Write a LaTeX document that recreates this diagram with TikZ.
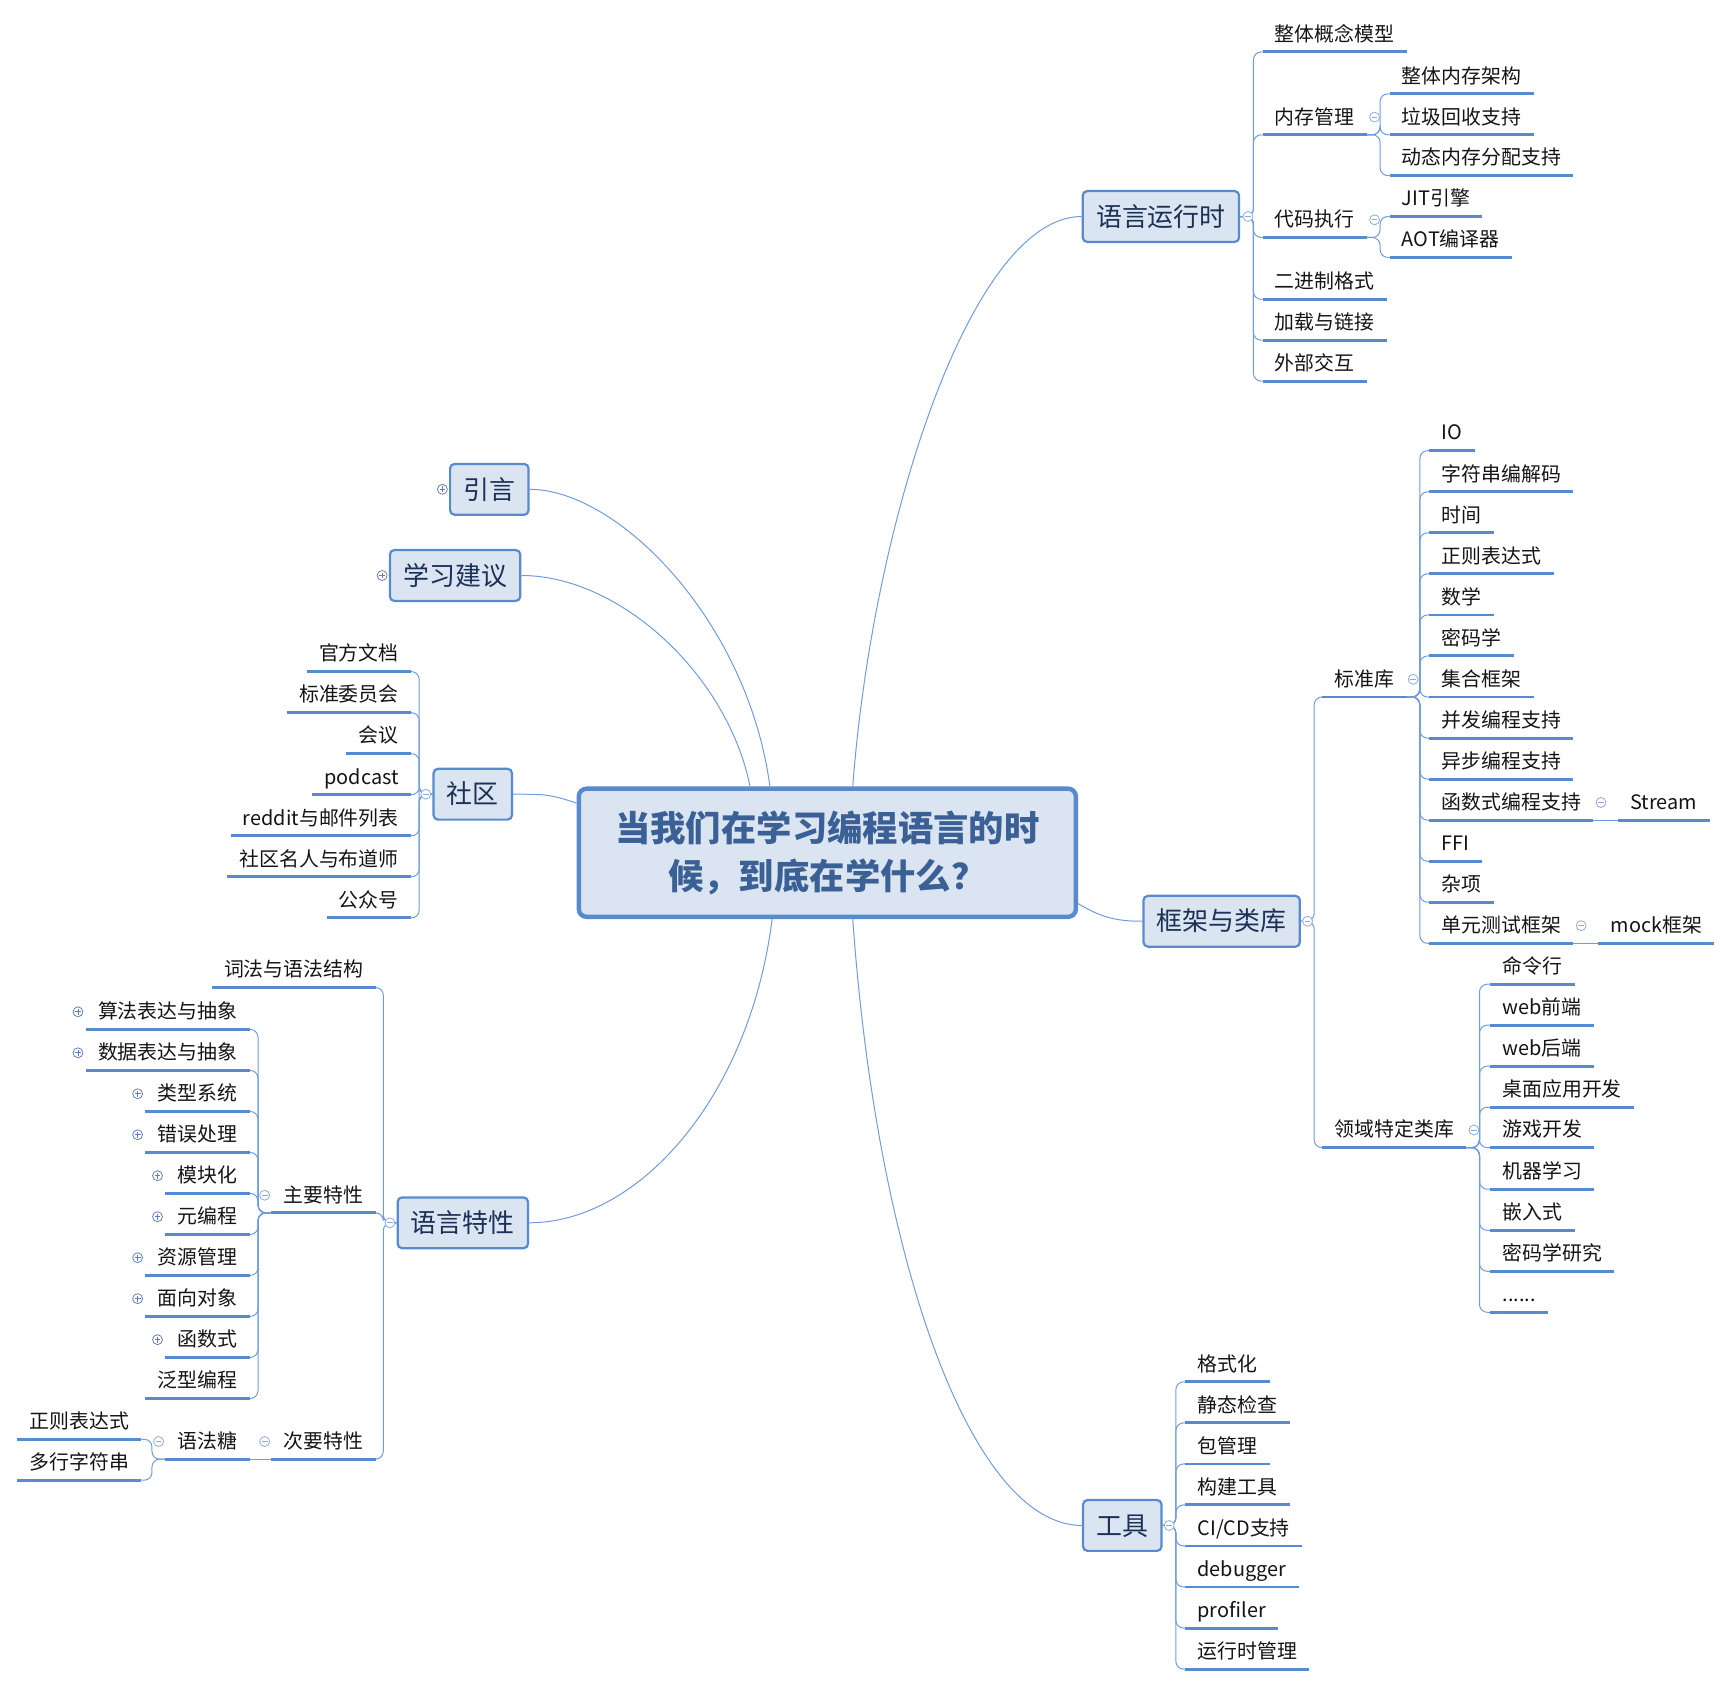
\documentclass[tikz,border=0pt]{standalone}
\usepackage{fontspec}
\setmainfont{Noto Sans CJK SC}
\usetikzlibrary{calc}
\definecolor{ulblue}{RGB}{88,138,208}
\definecolor{lnblue}{RGB}{110,156,220}
\definecolor{boxfill}{RGB}{219,229,241}
\definecolor{boxtext}{RGB}{28,48,88}
\definecolor{ctext}{RGB}{58,96,150}
\definecolor{togline}{RGB}{140,170,222}
\definecolor{togdark}{RGB}{95,125,185}
\begin{document}
\begin{tikzpicture}[x=1pt,y=-1pt,
  conn/.style={draw=lnblue, line width=0.9pt, rounded corners=7pt},
  curve/.style={draw=lnblue, line width=0.9pt},
  leaf/.style={font=\fontsize{18}{20}\selectfont, text=black!92, inner xsep=11pt, inner ysep=0pt,
    text height=15pt, text depth=9.5pt,
    append after command={(\tikzlastnode.south west) edge[draw=ulblue, line width=2.6pt] (\tikzlastnode.south east)}},
  leafR/.style={leaf, anchor=south west},
  leafL/.style={leaf, anchor=south east},
  lvlone/.style={draw=ulblue, line width=2pt, fill=boxfill, rounded corners=4pt, minimum height=46pt,
    inner xsep=12pt, inner ysep=0pt, text height=20.5pt, text depth=3pt,
    font=\fontsize{23.5}{26}\selectfont, text=boxtext},
  tog/.style={circle, draw=togline, line width=0.7pt, fill=white, inner sep=0pt, minimum size=9pt},
  togm/.style={tog, path picture={\draw[togline, line width=0.7pt]
     ($(path picture bounding box.center)+(-2.6,0)$) -- ($(path picture bounding box.center)+(2.6,0)$);}},
  togp/.style={tog, draw=togdark, path picture={\draw[togdark, line width=0.7pt]
     ($(path picture bounding box.center)+(-2.6,0)$) -- ($(path picture bounding box.center)+(2.6,0)$)
     ($(path picture bounding box.center)+(0,-2.6)$) -- ($(path picture bounding box.center)+(0,2.6)$);}}
]
\path[use as bounding box] (0,0) rectangle (1568,1526.4);

% ---------- central topic ----------
\node[draw=ulblue, line width=4pt, fill=boxfill, rounded corners=7pt, minimum width=450pt,
  minimum height=116pt, align=center, font=\fontsize{32}{43}\selectfont\bfseries, text=ctext]
  (C) at (749,772) {当我们在学习编程语言的时\\候，到底在学什么？};

% ---------- main topics ----------
\node[lvlone] (rt) at (1051,196) {语言运行时};
\node[lvlone] (yy) at (443,443) {引言};
\node[lvlone] (xx) at (412,521) {学习建议};
\node[lvlone] (sq) at (428,719) {社区};
\node[lvlone] (fw) at (1106,834) {框架与类库};
\node[lvlone] (lf) at (419,1107) {语言特性};
\node[lvlone] (tl) at (1016,1381) {工具};

% ---------- 语言运行时 ----------
\node[leafR] (rt1) at (1143,47) {整体概念模型};
\node[leafR] (rt2) at (1143,122) {内存管理};
\node[leafR] (rt2a) at (1258,85) {整体内存架构};
\node[leafR] (rt2b) at (1258,122) {垃圾回收支持};
\node[leafR] (rt2c) at (1258,159) {动态内存分配支持};
\node[leafR] (rt3) at (1143,215) {代码执行};
\node[leafR] (rt3a) at (1258,196) {JIT引擎};
\node[leafR] (rt3b) at (1258,233) {AOT编译器};
\node[leafR] (rt4) at (1143,271) {二进制格式};
\node[leafR] (rt5) at (1143,308) {加载与链接};
\node[leafR] (rt6) at (1143,345) {外部交互};

% ---------- 框架与类库 ----------
\node[leafR] (fw1) at (1197,631) {标准库};
\node[leafR] (s1) at (1294,408) {IO};
\node[leafR] (s2) at (1294,445.2) {字符串编解码};
\node[leafR] (s3) at (1294,482.3) {时间};
\node[leafR] (s4) at (1294,519.5) {正则表达式};
\node[leafR] (s5) at (1294,556.7) {数学};
\node[leafR] (s6) at (1294,593.8) {密码学};
\node[leafR] (s7) at (1294,631) {集合框架};
\node[leafR] (s8) at (1294,668.2) {并发编程支持};
\node[leafR] (s9) at (1294,705.3) {异步编程支持};
\node[leafR] (s10) at (1294,742.5) {函数式编程支持};
\node[leafR] (s11) at (1294,779.7) {FFI};
\node[leafR] (s12) at (1294,816.8) {杂项};
\node[leafR] (s13) at (1294,854) {单元测试框架};
\node[leafR] (st) at (1465,742.5) {Stream};
\node[leafR] (mk) at (1447,854) {mock框架};
\node[leafR] (fw2) at (1197,1039) {领域特定类库};
\node[leafR] (d1) at (1349,891) {命令行};
\node[leafR] (d2) at (1349,928.1) {web前端};
\node[leafR] (d3) at (1349,965.2) {web后端};
\node[leafR] (d4) at (1349,1002.4) {桌面应用开发};
\node[leafR] (d5) at (1349,1039) {游戏开发};
\node[leafR] (d6) at (1349,1076.6) {机器学习};
\node[leafR] (d7) at (1349,1113.8) {嵌入式};
\node[leafR] (d8) at (1349,1150.9) {密码学研究};
\node[leafR] (d9) at (1349,1188) {......};

% ---------- 工具 ----------
\node[leafR] (t1) at (1073,1251) {格式化};
\node[leafR] (t2) at (1073,1288.1) {静态检查};
\node[leafR] (t3) at (1073,1325.3) {包管理};
\node[leafR] (t4) at (1073,1362.4) {构建工具};
\node[leafR] (t5) at (1073,1399.6) {CI/CD支持};
\node[leafR] (t6) at (1073,1436.7) {debugger};
\node[leafR] (t7) at (1073,1473.9) {profiler};
\node[leafR] (t8) at (1073,1511) {运行时管理};

% ---------- 社区 ----------
\node[leafL] (q1) at (372,608) {官方文档};
\node[leafL] (q2) at (372,645.2) {标准委员会};
\node[leafL] (q3) at (372,682.3) {会议};
\node[leafL] (q4) at (372,719.5) {podcast};
\node[leafL] (q5) at (372,756.7) {reddit与邮件列表};
\node[leafL] (q6) at (372,793.8) {社区名人与布道师};
\node[leafL] (q7) at (372,831) {公众号};

% ---------- 语言特性 ----------
\node[leafL] (lf1) at (340,894) {词法与语法结构};
\node[leafL] (lf2) at (340,1098) {主要特性};
\node[leafL] (lf3) at (340,1321) {次要特性};
\node[leafL] (m1) at (226,932) {算法表达与抽象};
\node[leafL] (m2) at (226,969.1) {数据表达与抽象};
\node[leafL] (m3) at (226,1006.2) {类型系统};
\node[leafL] (m4) at (226,1043.3) {错误处理};
\node[leafL] (m5) at (226,1080.4) {模块化};
\node[leafL] (m6) at (226,1117.5) {元编程};
\node[leafL] (m7) at (226,1154.6) {资源管理};
\node[leafL] (m8) at (226,1191.7) {面向对象};
\node[leafL] (m9) at (226,1228.8) {函数式};
\node[leafL] (m10) at (226,1266) {泛型编程};
\node[leafL] (sy) at (226,1321) {语法糖};
\node[leafL] (sy1) at (128,1303) {正则表达式};
\node[leafL] (sy2) at (128,1340) {多行字符串};

% ---------- curves from the central topic ----------
\draw[curve] ([xshift=23pt]C.north) .. controls +(18,-240) and +(-100,0) .. (rt.west);
\draw[curve] ([xshift=-52pt]C.north) .. controls +(-20,-150) and +(80,0) .. (yy.east);
\draw[curve] ([xshift=-70pt]C.north) .. controls +(-20,-100) and +(90,0) .. (xx.east);
\draw[curve] ([yshift=45pt]C.west) .. controls +(-25,-8) and +(30,0) .. (sq.east);
\draw[curve] ([yshift=-46pt]C.east) .. controls +(20,12) and +(-25,0) .. (fw.west);
\draw[curve] ([xshift=-50pt]C.south) .. controls +(-20,160) and +(100,0) .. (lf.east);
\draw[curve] ([xshift=23pt]C.south) .. controls +(22,310) and +(-100,0) .. (tl.west);

% ---------- branch connectors ----------
\foreach \c in {rt1,rt2,rt3,rt4,rt5,rt6} \draw[conn] (rt.east) -- ++(12,0) |- (\c.south west);
\foreach \c in {rt2a,rt2b,rt2c} \draw[conn] (rt2.south east) -- ++(12,0) |- (\c.south west);
\foreach \c in {rt3a,rt3b} \draw[conn] (rt3.south east) -- ++(12,0) |- (\c.south west);
\foreach \c in {fw1,fw2} \draw[conn] (fw.east) -- ++(12,0) |- (\c.south west);
\foreach \c in {s1,s2,s3,s4,s5,s6,s7,s8,s9,s10,s11,s12,s13} \draw[conn] (fw1.south east) -- ++(12,0) |- (\c.south west);
\draw[conn] (s10.south east) -- (st.south west);
\draw[conn] (s13.south east) -- (mk.south west);
\foreach \c in {d1,d2,d3,d4,d5,d6,d7,d8,d9} \draw[conn] (fw2.south east) -- ++(12,0) |- (\c.south west);
\foreach \c in {t1,t2,t3,t4,t5,t6,t7,t8} \draw[conn] (tl.east) -- ++(12,0) |- (\c.south west);
\foreach \c in {q1,q2,q3,q4,q5,q6,q7} \draw[conn] (sq.west) -- ++(-12,0) |- (\c.south east);
\foreach \c in {lf1,lf2,lf3} \draw[conn] (lf.west) -- ++(-12,0) |- (\c.south east);
\foreach \c in {m1,m2,m3,m4,m5,m6,m7,m8,m9,m10} \draw[conn] (lf2.south west) -- ++(-12,0) |- (\c.south east);
\draw[conn] (lf3.south west) -- (sy.south east);
\foreach \c in {sy1,sy2} \draw[conn] (sy.south west) -- ++(-12,0) |- (\c.south east);

% ---------- collapse / expand markers ----------
\node[togm] (g1) at ($(rt.east)+(7,0)$) {};
\node[togm] (g2) at ($(rt2.south east)+(7,-16)$) {};
\node[togm] (g3) at ($(rt3.south east)+(7,-16)$) {};
\node[togm] (g4) at ($(fw.east)+(6,0)$) {};
\node[togm] (g5) at ($(fw1.south east)+(6,-16)$) {};
\node[togm] (g6) at ($(s10.south east)+(7,-16)$) {};
\node[togm] (g7) at ($(s13.south east)+(7,-16)$) {};
\node[togm] (g8) at ($(fw2.south east)+(7,-16)$) {};
\node[togm] (g9) at ($(tl.east)+(6,0)$) {};
\node[togp] (g10) at ($(yy.west)+(-6,0)$) {};
\node[togp] (g11) at ($(xx.west)+(-6,0)$) {};
\node[togm] (g12) at ($(sq.west)+(-6,0)$) {};
\node[togm] (g13) at ($(lf.west)+(-6,0)$) {};
\node[togm] (g14) at ($(lf2.south west)+(-6,-16)$) {};
\node[togm] (g15) at ($(lf3.south west)+(-6,-16)$) {};
\node[togm] (g16) at ($(sy.south west)+(-6,-16)$) {};
\foreach \c in {m1,m2,m3,m4,m5,m6,m7,m8,m9}
  \node[togp] (p\c) at ($(\c.south west)+(-7,-16)$) {};
\end{tikzpicture}
\end{document}
